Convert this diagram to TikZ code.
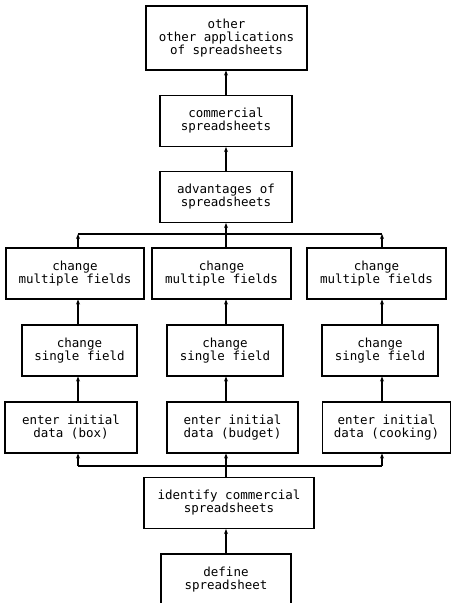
\documentclass[tikz,border=0pt]{standalone}
\usepackage{fontspec}
\setmonofont{DejaVu Sans Mono}
\usetikzlibrary{arrows.meta}

\begin{document}
\begin{tikzpicture}[x=1pt,y=-1pt,
  topic/.style={draw,line width=1.1pt,align=center,inner sep=0pt,minimum height=51pt,
    font=\ttfamily\fontsize{12.5}{13}\selectfont},
  flow/.style={line width=1.1pt,-{Stealth[length=5pt,width=4pt]}},
  bus/.style={line width=1.1pt}]
\useasboundingbox (0,0) rectangle (452,603);
\fill[white] (0,0) rectangle (452,603);
\node[topic,minimum width=161pt,minimum height=64pt] (other) at (226.5,38) {other\\other applications\\of spreadsheets};
\node[topic,minimum width=132pt] (comm) at (226,121) {commercial\\spreadsheets};
\node[topic,minimum width=132pt] (adv) at (226,197) {advantages of\\spreadsheets};
\node[topic,minimum width=138pt] (multL) at (75,273.5) {change\\multiple fields};
\node[topic,minimum width=139pt] (multM) at (221.5,273.5) {change\\multiple fields};
\node[topic,minimum width=139pt] (multR) at (376.5,273.5) {change\\multiple fields};
\node[topic,minimum width=115pt] (singleL) at (79.5,350.5) {change\\single field};
\node[topic,minimum width=116pt] (singleM) at (225,350.5) {change\\single field};
\node[topic,minimum width=116pt] (singleR) at (380,350.5) {change\\single field};
\node[topic,minimum width=132pt] (enterL) at (71,427.5) {enter initial\\data (box)};
\node[topic,minimum width=131pt] (enterM) at (232.5,427.5) {enter initial\\data (budget)};
\node[topic,minimum width=128pt] (enterR) at (386.5,427.5) {enter initial\\data (cooking)};
\node[topic,minimum width=170pt] (ident) at (229,503) {identify commercial\\spreadsheets};
\node[topic,minimum width=130pt] (define) at (226,579.5) {define\\spreadsheet};
\coordinate (colL) at (78,0);
\coordinate (colM) at (226,0);
\coordinate (colR) at (382,0);
\coordinate (topL) at (78,234);
\coordinate (topR) at (382,234);
\coordinate (botL) at (78,466);
\coordinate (botR) at (382,466);
\draw[flow] (define.north -| colM) -- (ident.south -| colM);
\draw[flow] (ident.north -| colM) -- (enterM.south -| colM);
\draw[bus] (botL) -- (botR);
\draw[flow] (botL) -- (enterL.south -| colL);
\draw[flow] (botR) -- (enterR.south -| colR);
\draw[flow] (enterL.north -| colL) -- (singleL.south -| colL);
\draw[flow] (enterM.north -| colM) -- (singleM.south -| colM);
\draw[flow] (enterR.north -| colR) -- (singleR.south -| colR);
\draw[flow] (singleL.north -| colL) -- (multL.south -| colL);
\draw[flow] (singleM.north -| colM) -- (multM.south -| colM);
\draw[flow] (singleR.north -| colR) -- (multR.south -| colR);
\draw[flow] (multL.north -| colL) -- (topL);
\draw[flow] (multR.north -| colR) -- (topR);
\draw[bus] (topL) -- (topR);
\draw[flow] (multM.north -| colM) -- (adv.south -| colM);
\draw[flow] (adv.north -| colM) -- (comm.south -| colM);
\draw[flow] (comm.north -| colM) -- (other.south -| colM);
\end{tikzpicture}
\end{document}
